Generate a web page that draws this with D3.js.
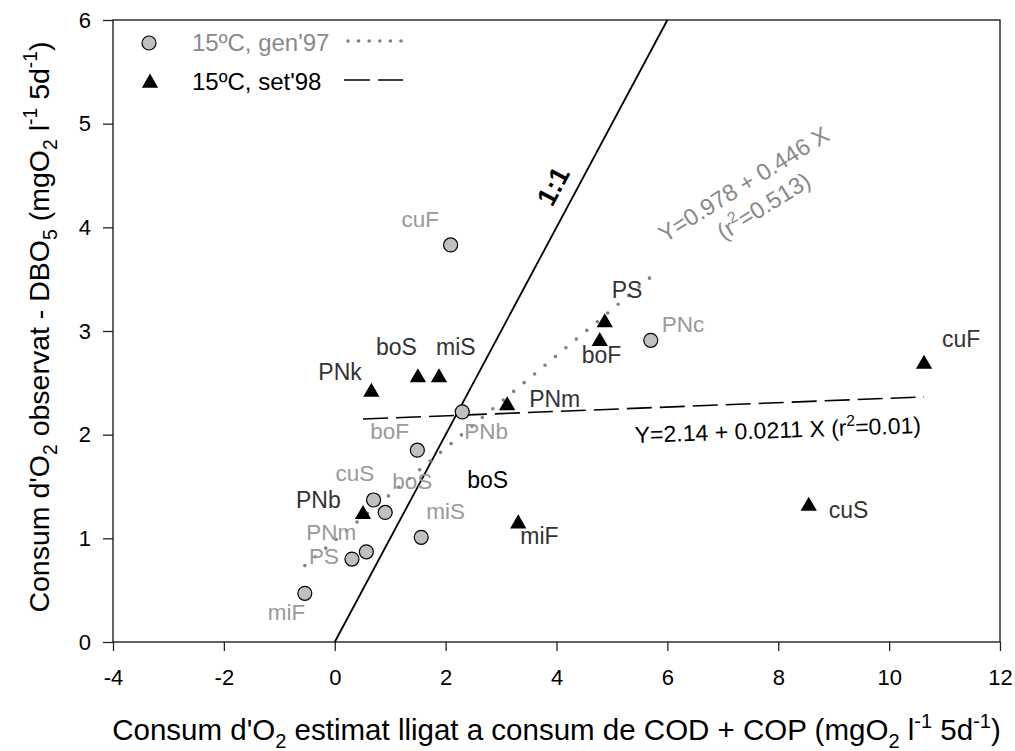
<!DOCTYPE html>
<html>
<head>
<meta charset="utf-8">
<script src="https://cdn.jsdelivr.net/npm/d3@7"></script>
<style>
  body { margin: 0; background: #fff; }
  svg { font-family: "Liberation Sans", Arial, sans-serif; }
</style>
</head>
<body>
<svg id="chart" width="1015" height="751"></svg>
<script>
// series 15ºC, gen'97 (grey circles)
const genNames = ['cuF', 'PNc', 'PNb', 'boF', 'cuS', 'boS', 'miS', 'PNm', 'PS', 'miF'];
const genX = [2.09, 5.70, 2.30, 1.49, 0.70, 0.91, 1.56, 0.57, 0.31, -0.54];
const genY = [3.83, 2.91, 2.22, 1.85, 1.37, 1.25, 1.01, 0.87, 0.80, 0.47];

// series 15ºC, set'98 (black triangles)
const setNames = ['PNk', 'boS', 'miS', 'PNm', 'PS', 'boF', 'cuF', 'cuS', 'miF', 'PNb'];
const setX = [0.66, 1.50, 1.88, 3.11, 4.87, 4.78, 10.63, 8.55, 3.31, 0.51];
const setY = [2.43, 2.57, 2.57, 2.30, 3.10, 2.92, 2.70, 1.33, 1.16, 1.25];

// regressions: [intercept, slope]
const genFit = [0.978, 0.446];
const setFit = [2.14, 0.0211];

const xTicks = [-4, -2, 0, 2, 4, 6, 8, 10, 12];
const yTicks = [0, 1, 2, 3, 4, 5, 6];

// label placement (pixel offsets from the mark)
const genLabelOff = [[-49, -18], [11, -8], [2, 27], [-47, -11], [-38, -19],
  [7, -23], [5, -18], [-60, -12], [-43, 5], [-37, 27]];
const setLabelOff = [[-53, -10], [-42, -21], [-3, -21], [22, 3], [7, -23],
  [-18, 24], [18, -15], [20, 14], [2, 22], [-67, -4]];

const svg = d3.select('#chart');
const pLeft = 113, pRight = 1000, pTop = 20, pBottom = 642;

const x = d3.scaleLinear().domain([-4, 12]).range([pLeft, pRight]);
const y = d3.scaleLinear().domain([0, 6]).range([pBottom, pTop]);

// write text with sub/superscripts: parts = [[str, 'sub'|'sup'|null], ...]
function rich(sel, parts, size) {
  let shift = 0;
  parts.forEach(([s, t]) => {
    const target = t === 'sub' ? size * 0.28 : t === 'sup' ? -size * 0.42 : 0;
    const ts = sel.append('tspan').text(s).attr('dy', target - shift);
    if (t) ts.attr('font-size', size * 0.68);
    shift = target;
  });
  return sel;
}

// axes
const xAxis = svg.append('g')
  .attr('transform', `translate(0,${pBottom})`)
  .call(d3.axisBottom(x).tickValues(xTicks).tickFormat(d => String(d))
    .tickSize(9).tickSizeOuter(0).tickPadding(18));
const yAxis = svg.append('g')
  .attr('transform', `translate(${pLeft},0)`)
  .call(d3.axisLeft(y).tickValues(yTicks).tickFormat(d => String(d))
    .tickSize(10).tickSizeOuter(0).tickPadding(12));

[xAxis, yAxis].forEach(a => {
  a.select('.domain').remove();
  a.selectAll('line').attr('stroke', '#222').attr('stroke-width', 1.3);
  a.selectAll('text').attr('font-size', 22).attr('fill', '#000')
    .attr('font-family', '"Liberation Sans", Arial, sans-serif');
});

svg.append('rect')
  .attr('x', pLeft).attr('y', pTop)
  .attr('width', pRight - pLeft).attr('height', pBottom - pTop)
  .attr('fill', 'none').attr('stroke', '#222').attr('stroke-width', 1.4);

// axis titles
rich(svg.append('text')
  .attr('x', (pLeft + pRight) / 2).attr('y', 740)
  .attr('text-anchor', 'middle').attr('font-size', 29.5),
  [["Consum d'O", null], ['2', 'sub'], [' estimat lligat a consum de COD + COP (mgO', null],
   ['2', 'sub'], [' l', null], ['-1', 'sup'], [' 5d', null], ['-1', 'sup'], [')', null]], 29.5);

rich(svg.append('text')
  .attr('transform', 'translate(49,327) rotate(-90)')
  .attr('text-anchor', 'middle').attr('font-size', 28.5),
  [["Consum d'O", null], ['2', 'sub'], [' observat - DBO', null], ['5', 'sub'], [' (mgO', null],
   ['2', 'sub'], [' l', null], ['-1', 'sup'], [' 5d', null], ['-1', 'sup'], [')', null]], 28.5);

const plot = svg.append('g');

// 1:1 line
plot.append('line')
  .attr('x1', x(0)).attr('y1', y(0))
  .attr('x2', x(6)).attr('y2', y(6))
  .attr('stroke', '#000').attr('stroke-width', 1.8);

plot.append('text')
  .attr('transform', 'translate(553,186) rotate(-62)')
  .attr('text-anchor', 'middle').attr('dy', '0.35em')
  .attr('font-size', 27).attr('font-weight', 'bold').text('1:1');

// regression lines over each series' x range
const fitLine = (fit, xs) => {
  const [a, b] = d3.extent(xs);
  return [[a, fit[0] + fit[1] * a], [b, fit[0] + fit[1] * b]];
};
const line = d3.line().x(d => x(d[0])).y(d => y(d[1]));

plot.append('path')
  .attr('d', line(fitLine(setFit, setX)))
  .attr('fill', 'none').attr('stroke', '#000').attr('stroke-width', 1.6)
  .attr('stroke-dasharray', '25 8');

plot.append('path')
  .attr('d', line(fitLine(genFit, genX)))
  .attr('fill', 'none').attr('stroke', '#808080').attr('stroke-width', 3.6)
  .attr('stroke-linecap', 'round').attr('stroke-dasharray', '0 13.6');

// circles
plot.selectAll('.gen').data(genX).enter()
  .append('circle').attr('class', 'gen')
  .attr('cx', d => x(d)).attr('cy', (d, i) => y(genY[i]))
  .attr('r', 7).attr('fill', '#c0c0c0').attr('stroke', '#000').attr('stroke-width', 1.2);

// triangles
const tri = d3.symbol().type(d3.symbolTriangle).size(115);
plot.selectAll('.set').data(setX).enter()
  .append('path').attr('class', 'set')
  .attr('d', tri)
  .attr('transform', (d, i) => `translate(${x(d)},${y(setY[i]) + 2})`)
  .attr('fill', '#000');

// point labels
plot.selectAll('.genLab').data(genNames).enter()
  .append('text').attr('class', 'genLab')
  .attr('x', (d, i) => x(genX[i]) + genLabelOff[i][0])
  .attr('y', (d, i) => y(genY[i]) + genLabelOff[i][1])
  .attr('font-size', 22.5).attr('fill', '#9a9a9a').text(d => d);

plot.selectAll('.setLab').data(setNames).enter()
  .append('text').attr('class', 'setLab')
  .attr('x', (d, i) => x(setX[i]) + setLabelOff[i][0])
  .attr('y', (d, i) => y(setY[i]) + setLabelOff[i][1])
  .attr('font-size', 23).attr('fill', '#333').text(d => d);

// stray label in the original figure
plot.append('text')
  .attr('x', x(2.39)).attr('y', y(1.49))
  .attr('font-size', 23).attr('fill', '#000').text('boS');

// equations
rich(plot.append('text')
  .attr('transform', 'translate(635,443) rotate(-2)')
  .attr('font-size', 23).attr('fill', '#000'),
  [['Y=2.14 + 0.0211 X (r', null], ['2', 'sup'], ['=0.01)', null]], 23);

plot.append('text')
  .attr('transform', 'translate(748,191) rotate(-32)')
  .attr('text-anchor', 'middle').attr('font-size', 23.5).attr('fill', '#888')
  .text('Y=0.978 + 0.446 X');
rich(plot.append('text')
  .attr('transform', 'translate(768,213) rotate(-32)')
  .attr('text-anchor', 'middle').attr('font-size', 23.5).attr('fill', '#888'),
  [['(r', null], ['2', 'sup'], ['=0.513)', null]], 23.5);

// legend
const legend = svg.append('g');
legend.append('circle').attr('cx', 149).attr('cy', 43).attr('r', 7)
  .attr('fill', '#c0c0c0').attr('stroke', '#000').attr('stroke-width', 1.2);
legend.append('text').attr('x', 192).attr('y', 43).attr('dy', '0.35em')
  .attr('font-size', 24).attr('fill', '#8a8a8a').text("15ºC, gen'97");
legend.append('line').attr('x1', 348).attr('x2', 402).attr('y1', 41).attr('y2', 41)
  .attr('stroke', '#808080').attr('stroke-width', 3.6)
  .attr('stroke-linecap', 'round').attr('stroke-dasharray', '0 10.6');

legend.append('path').attr('d', tri).attr('transform', 'translate(150,83)').attr('fill', '#000');
legend.append('text').attr('x', 192).attr('y', 82).attr('dy', '0.35em')
  .attr('font-size', 24).attr('fill', '#000').text("15ºC, set'98");
legend.append('line').attr('x1', 344).attr('x2', 403).attr('y1', 80).attr('y2', 80)
  .attr('stroke', '#000').attr('stroke-width', 1.6).attr('stroke-dasharray', '26 8');
</script>
</body>
</html>
